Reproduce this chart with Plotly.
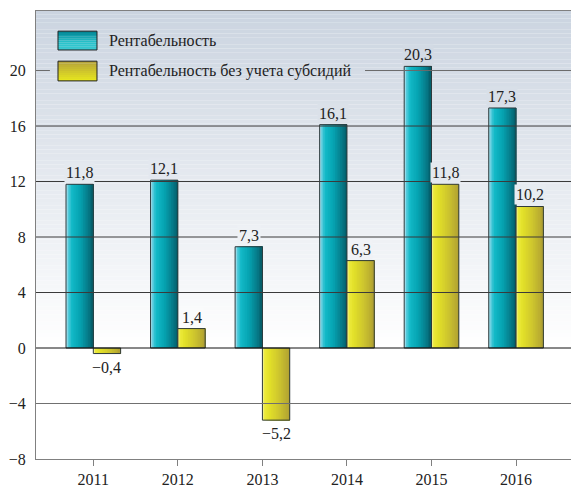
import plotly.graph_objects as go

# ---------------- data ----------------
years = ["2011", "2012", "2013", "2014", "2015", "2016"]
profit = [11.8, 12.1, 7.3, 16.1, 20.3, 17.3]
profit_no_subsidy = [-0.4, 1.4, -5.2, 6.3, 11.8, 10.2]
series_names = ["Рентабельность", "Рентабельность без учета субсидий"]
y_ticks = [-8, -4, 0, 4, 8, 12, 16, 20]
y_ticktext = ["−8", "−4", "0", "4", "8", "12", "16", "20"]

# ---------------- style ----------------
FONT = "Liberation Serif, Times New Roman, DejaVu Serif, serif"
FS = 16
Y_MIN, Y_MAX = -8, 24.29
X_MIN, X_MAX = -0.678, 5.65
BAR_W = 0.323
TOP_BG = (203, 212, 224)
GRID = "#3a3a3a"
AXIS = "#808080"
N_SLICES = 16
N_BANDS = 90

teal_stops = [(0.0, (190, 232, 244)), (0.08, (90, 204, 222)), (0.2, (20, 186, 200)),
              (0.5, (6, 164, 178)), (0.8, (6, 124, 138)), (1.0, (4, 92, 104))]
yellow_stops = [(0.0, (246, 244, 160)), (0.08, (236, 234, 60)), (0.25, (226, 224, 40)),
                (0.6, (206, 198, 46)), (1.0, (176, 160, 50))]


def interp(stops, t):
    for (p0, c0), (p1, c1) in zip(stops, stops[1:]):
        if t <= p1:
            f = (t - p0) / (p1 - p0) if p1 > p0 else 0
            return tuple(round(a + (b - a) * f) for a, b in zip(c0, c1))
    return stops[-1][1]


def rgb(c):
    return "rgb(%d,%d,%d)" % c


def bg_at(v):
    f = max(0.0, min(1.0, v / Y_MAX))
    return rgb(tuple(round(255 + (t - 255) * f) for t in TOP_BG))


x_idx = list(range(len(years)))
fig = go.Figure()

# bars with horizontal gradient built from overlapping slices
for s, (vals, stops, base_off) in enumerate([(profit, teal_stops, -BAR_W),
                                             (profit_no_subsidy, yellow_stops, 0.0)]):
    for i in range(N_SLICES):
        t0 = i / N_SLICES
        col = interp(stops, (i + 0.5) / N_SLICES)
        fig.add_trace(go.Bar(
            x=x_idx, y=vals, width=BAR_W * (1 - t0), offset=base_off + BAR_W * t0,
            marker=dict(color=rgb(col), line=dict(width=0)),
            hoverinfo="skip", showlegend=False))
    fig.add_trace(go.Bar(
        x=x_idx, y=vals, width=BAR_W, offset=base_off, name=series_names[s],
        marker=dict(color="rgba(0,0,0,0)", line=dict(width=1, color="#2e3a3c")),
        showlegend=False))

shapes = []
# background gradient bands (white at zero -> blue-gray at top), below traces
for k in range(N_BANDS):
    y0 = Y_MAX * k / N_BANDS
    y1 = Y_MAX * (k + 1) / N_BANDS
    shapes.append(dict(type="rect", xref="x domain", yref="y", x0=0, x1=1, y0=y0, y1=y1,
                       fillcolor=bg_at((y0 + y1) / 2), line=dict(width=0), layer="below"))

# gridlines above bars
for g in y_ticks[1:]:
    col = "#111111" if g == 0 else GRID
    if g == 20:
        for a, b in [(0, 0.026), (0.615, 1)]:
            shapes.append(dict(type="line", xref="x domain", yref="y", x0=a, x1=b, y0=g, y1=g,
                               line=dict(color="#6a6a6a", width=1), layer="above"))
    else:
        shapes.append(dict(type="line", xref="x domain", yref="y", x0=0, x1=1, y0=g, y1=g,
                           line=dict(color="#707070" if g == -4 else col, width=1),
                           layer="above"))

# custom legend swatches
sw_x0, sw_x1 = 0.0411, 0.114
legend_rows = [((0.955, 0.913), [(0.0, (0, 130, 145)), (0.6, (40, 196, 204)), (1.0, (60, 200, 208))]),
               ((0.888, 0.844), [(0.0, (180, 160, 58)), (1.0, (232, 232, 30))])]
for (ytop, ybot), stops in legend_rows:
    nb = 10
    for k in range(nb):
        ya = ytop - (ytop - ybot) * k / nb
        yb = ytop - (ytop - ybot) * (k + 1) / nb
        shapes.append(dict(type="rect", xref="x domain", yref="y domain", x0=sw_x0, x1=sw_x1,
                           y0=yb, y1=ya, fillcolor=rgb(interp(stops, (k + 0.5) / nb)),
                           line=dict(width=0), layer="above"))
    shapes.append(dict(type="rect", xref="x domain", yref="y domain", x0=sw_x0, x1=sw_x1,
                       y0=ybot, y1=ytop, line=dict(color="#222222", width=1), layer="above"))

annotations = []
for (ytop, ybot), name in zip([r[0] for r in legend_rows], series_names):
    annotations.append(dict(xref="x domain", yref="y domain", x=0.1327, y=(ytop + ybot) / 2,
                            text=name, showarrow=False, xanchor="left", yanchor="middle",
                            font=dict(family=FONT, size=FS, color="#222222")))

# value labels
for vals, off in [(profit, -BAR_W / 2), (profit_no_subsidy, BAR_W / 2)]:
    for i, v in enumerate(vals):
        txt = ("%.1f" % abs(v)).replace(".", ",")
        if v < 0:
            txt = "−" + txt
        pos = v >= 0
        annotations.append(dict(
            x=i + off, y=v, xref="x", yref="y", text=txt, showarrow=False,
            xanchor="center", yanchor="bottom" if pos else "top",
            yshift=1 if pos else -3,
            bgcolor=bg_at(v + 0.8) if pos else "#ffffff", borderpad=1,
            font=dict(family=FONT, size=FS, color="#222222")))

fig.update_layout(
    width=571, height=487,
    margin=dict(l=36, r=0, t=11, b=28, autoexpand=False),
    paper_bgcolor="#ffffff", plot_bgcolor="#ffffff",
    barmode="overlay", showlegend=False,
    font=dict(family=FONT, size=FS, color="#222222"),
    shapes=shapes, annotations=annotations,
    xaxis=dict(range=[X_MIN, X_MAX], tickvals=x_idx, ticktext=years, showgrid=False,
               zeroline=False, showline=True, linecolor=AXIS, linewidth=1, mirror=True,
               ticks="outside", ticklen=6, tickcolor=AXIS,
               tickfont=dict(family=FONT, size=FS, color="#222222")),
    yaxis=dict(range=[Y_MIN, Y_MAX], tickvals=y_ticks, ticktext=y_ticktext, showgrid=False,
               zeroline=False, showline=True, linecolor=AXIS, linewidth=1,
               ticks="", ticklabelstandoff=6,
               tickfont=dict(family=FONT, size=FS, color="#222222")),
)

fig.write_html("out.html", config={"displayModeBar": False},
               post_script="document.body.style.margin='0';document.body.style.overflow='hidden';")
